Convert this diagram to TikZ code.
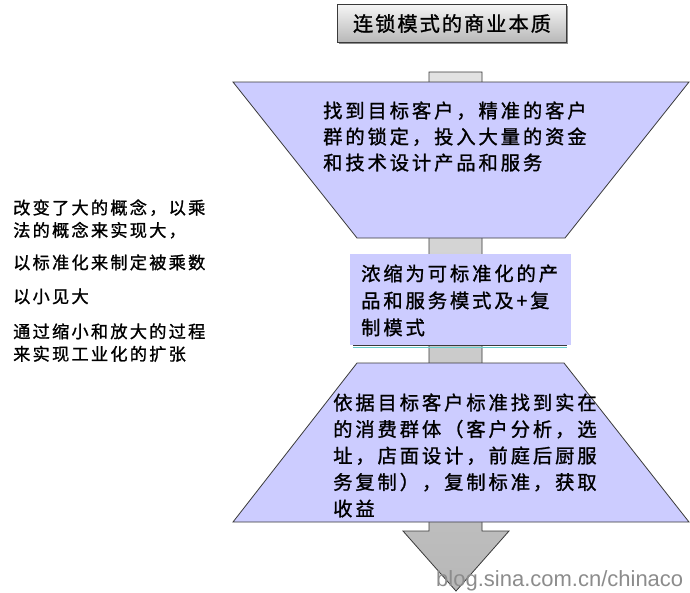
\documentclass[tikz,border=0pt]{standalone}
\usepackage{fontspec}
\setmainfont{Noto Sans CJK SC}
\newfontfamily\bodycjk[LetterSpace=15,FakeBold=1.2]{Noto Sans CJK SC}
\newfontfamily\titlecjk[LetterSpace=10,FakeBold=1.2]{Noto Sans CJK SC}
\newfontfamily\leftcjk[LetterSpace=13,FakeBold=1.2]{Noto Sans CJK SC}
\newfontfamily\wmfont{Liberation Sans}
\usetikzlibrary{shadows}
\definecolor{lav}{HTML}{CCCCFF}
\definecolor{edge}{HTML}{3A3A3A}
\definecolor{shaft}{HTML}{D6D6D6}
\definecolor{teal}{HTML}{66CCCC}
\tikzset{
  funnel/.style={fill=lav, draw=edge, line width=0.8pt, line join=miter},
  bodytext/.style={anchor=north west, inner sep=0pt, align=left, font=\bodycjk\fontsize{19.3}{26}\selectfont},
  lefttext/.style={anchor=north west, inner sep=0pt, align=left, font=\leftcjk\fontsize{17.2}{22.5}\selectfont},
  titlebox/.style={draw=edge, line width=0.8pt, minimum width=229pt, minimum height=38pt, inner sep=0pt,
    top color=white!96!black, bottom color=white!72!black,
    drop shadow={shadow xshift=1pt, shadow yshift=-1.5pt, opacity=0.45, fill=black},
    font=\titlecjk\fontsize{20.2}{24}\selectfont},
}
\begin{document}
\begin{tikzpicture}[x=1pt, y=-1pt]
\useasboundingbox (0,0) rectangle (690,592);
% shaft with arrow head
\filldraw[fill=shaft, draw=edge, line width=0.8pt, top color=shaft!70!white, bottom color=black!28]
  (429,72) -- (482,72) -- (482,531) -- (509,531) -- (456,591) -- (403,531) -- (429,531) -- cycle;
% title
\node[titlebox] (title) at (452,23.5) {连锁模式的商业本质};
% top funnel
\path[funnel] (233,82) -- (689,82) -- (565,238) -- (357,238) -- cycle;
\node[bodytext] (t1) at (323,101.3) {找到目标客户，精准的客户\\群的锁定，投入大量的资金\\和技术设计产品和服务};
% middle box
\fill[lav] (350,254) rectangle (571,345);
\draw[edge, line width=1pt] (353,345.8) -- (567,345.8);
\draw[teal, line width=1.2pt] (353,347.3) -- (567,347.3);
\node[bodytext, font=\bodycjk\fontsize{19.3}{27}\selectfont] (t2) at (361,264.3) {浓缩为可标准化的产\\品和服务模式及+复\\制模式};
% bottom funnel
\path[funnel] (357,363) -- (564,363) -- (689,522) -- (233,522) -- cycle;
\node[bodytext, font=\bodycjk\fontsize{19.3}{26.5}\selectfont] (t3) at (333,393.3) {依据目标客户标准找到实在\\的消费群体（客户分析，选\\址，店面设计，前庭后厨服\\务复制），复制标准，获取\\收益};
% left notes
\node[lefttext] (l1) at (13,199.2) {改变了大的概念，以乘\\法的概念来实现大，};
\node[lefttext] (l2) at (13,254.2) {以标准化来制定被乘数};
\node[lefttext] (l3) at (13,288.2) {以小见大};
\node[lefttext] (l4) at (13,323.2) {通过缩小和放大的过程\\来实现工业化的扩张};
% watermark
\node[anchor=base west, inner sep=0pt, font=\wmfont\fontsize{22}{24}\selectfont, text=black!45] (wm) at (436,586) {blog.sina.com.cn/chinaco};
\end{tikzpicture}
\end{document}
